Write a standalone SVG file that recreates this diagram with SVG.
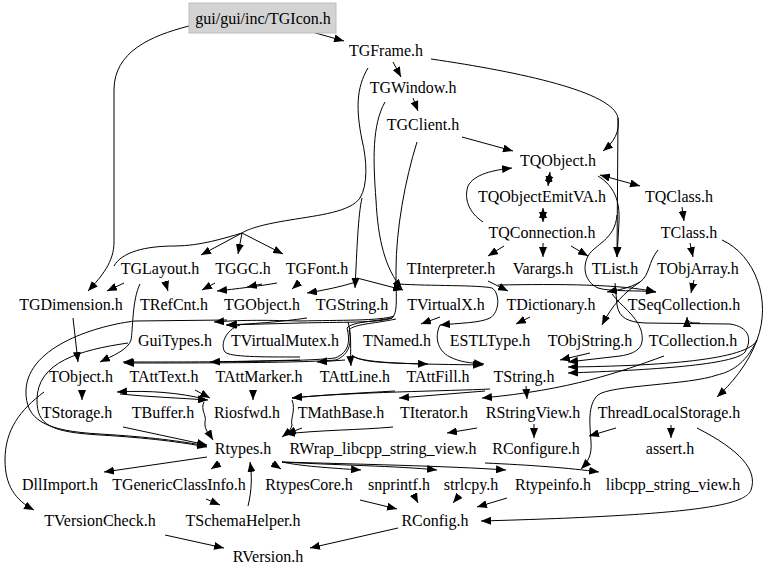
<svg xmlns="http://www.w3.org/2000/svg" width="768" height="575" viewBox="0 0 768 575">
<style>
text{font-family:"Liberation Serif","Times New Roman",serif;font-size:16px;text-anchor:middle;fill:#000}
.e{fill:none;stroke:#000;stroke-width:1;marker-end:url(#a)}
.l{fill:none;stroke:#000;stroke-width:1}
.d{fill:none;stroke:#000;stroke-width:1;marker-end:url(#a);marker-start:url(#a)}
</style>
<defs>
<marker id="a" markerUnits="userSpaceOnUse" markerWidth="10" markerHeight="8" viewBox="0 0 10 8" refX="10" refY="4" orient="auto-start-reverse">
<path d="M0,0 L10,4 L0,8 z" fill="#000"/>
</marker>
</defs>
<rect width="768" height="575" fill="#fff"/>
<g id="edges">
<path class="e" d="M312,32 L344,41"/>
<path class="e" d="M189,26 C150,36 114,52 114,90 L114,242 C114,262 102,276 88,291"/>
<path class="e" d="M393,62 L401,77"/>
<path class="e" d="M431,59 C520,72 614,92 618,118 C620,132 614,142 603,151"/>
<path class="e" d="M618,118 L617,257"/>
<path class="e" d="M413,98 L418,111"/>
<path class="e" d="M462,137 L513,151"/>
<path class="l" d="M368,68 C356,88 356,110 362,140 C367,160 368,185 360,198 C350,212 320,215 290,220 C265,224 250,228 242,233"/>
<path class="e" d="M242,233 L201,255"/>
<path class="e" d="M242,233 L238,254"/>
<path class="e" d="M242,233 L283,254"/>
<path class="l" d="M242,233 C225,238 200,246 175,246 C145,246 122,252 114,266"/>
<path class="e" d="M362,198 C358,215 357,250 355,288"/>
<path class="e" d="M357,278 L403,290"/>
<path class="e" d="M356,282 C340,287 325,290 307,293"/>
<path class="e" d="M385,102 C372,125 373,160 376,200 C378,240 385,268 402,289"/>
<path class="l" d="M417,142 C405,180 396,230 396,270 C396,300 398,312 392,318"/>
<path class="e" d="M392,318 C380,323 340,322 300,323 L226,325"/>
<path class="e" d="M394,316 C380,321 340,320 300,321 C260,320 240,320 214,322"/>
<path class="e" d="M307,318 C280,322 250,324 227,325"/>
<path class="l" d="M240,325 C225,330 220,345 225,352 C230,357 260,357 300,357"/>
<path class="e" d="M392,318 C370,322 352,322 347,328 C350,340 350,352 335,358 C300,362 200,362 123,362"/>
<path class="e" d="M396,319 C372,324 354,324 349,330 C352,342 350,354 336,360 C300,363 200,363 124,363"/>
<path class="e" d="M300,360 C270,361 240,361 210,362"/>
<path class="e" d="M345,360 L317,362"/>
<path class="e" d="M348,322 C352,335 350,350 351,366"/>
<path class="e" d="M352,355 C360,362 380,363 428,364"/>
<path class="e" d="M352,356 C365,364 420,364 483,365"/>
<path class="e" d="M398,284 C430,286 480,285 492,288 C500,293 500,312 490,318 C480,323 460,323 440,325"/>
<path class="e" d="M440,317 L421,324"/>
<path class="e" d="M440,325 C435,335 436,350 450,357 C460,362 470,363 484,364"/>
<path class="e" d="M488,281 L508,291"/>
<path class="e" d="M498,285 C560,284 620,284 656,292"/>
<path class="e" d="M530,317 L516,324"/>
<path class="e" d="M504,246 L488,256"/>
<path class="e" d="M543,243 L543,257"/>
<path class="e" d="M571,246 L588,256"/>
<path class="e" d="M483,222 C468,212 464,198 468,186 C474,174 494,170 512,168"/>
<path class="d" d="M550,172 L548,186"/>
<path class="d" d="M543,208 L543,222"/>
<path class="d" d="M600,175 L640,186"/>
<path class="e" d="M598,176 C614,186 620,200 619,222 L617,257"/>
<path class="e" d="M682,207 L684,221"/>
<path class="e" d="M690,243 L693,257"/>
<path class="e" d="M694,280 L691,293"/>
<path class="e" d="M658,250 C648,262 650,275 640,282 C630,288 618,290 607,292"/>
<path class="e" d="M640,282 C625,292 612,305 602,325"/>
<path class="e" d="M617,215 C615,240 595,244 588,256 C582,268 585,282 598,288 C610,292 640,290 656,292"/>
<path class="e" d="M615,283 L617,305 C619,318 628,322 645,323 L730,324 C750,327 752,340 745,352 C735,365 650,370 568,373"/>
<path class="e" d="M700,323 C692,323 687,323 687,317"/>
<path class="e" d="M612,294 C620,305 636,315 641,330 C645,345 640,353 620,356 L568,362"/>
<path class="e" d="M722,240 C755,255 772,300 757,340 C748,365 730,385 717,397"/>
<path class="e" d="M757,340 C748,360 660,366 568,367"/>
<path class="e" d="M590,353 L560,360"/>
<path class="e" d="M664,356 C620,372 570,390 482,398"/>
<path class="e" d="M526,386 L527,399"/>
<path class="e" d="M485,391 L399,398"/>
<path class="e" d="M490,389 C450,391 350,392 292,398"/>
<path class="e" d="M395,391 C360,393 320,395 292,398"/>
<path class="e" d="M292,400 C296,410 290,420 292,425 C290,432 286,434 282,437"/>
<path class="e" d="M393,427 C360,430 320,430 285,434"/>
<path class="e" d="M302,428 L286,434"/>
<path class="e" d="M477,428 L447,433"/>
<path class="e" d="M534,424 L534,438"/>
<path class="e" d="M616,428 L589,436"/>
<path class="e" d="M671,425 L671,438"/>
<path class="e" d="M697,428 C740,450 758,470 751,490 C745,505 700,515 481,521"/>
<path class="e" d="M757,340 C745,365 730,372 717,375 C690,385 610,385 598,395 C587,405 590,425 591,442 C592,455 588,462 581,469"/>
<path class="e" d="M485,463 C530,465 570,468 599,472"/>
<path class="e" d="M282,462 C300,466 330,468 361,470"/>
<path class="e" d="M282,462 C330,465 400,466 437,470"/>
<path class="e" d="M282,462 C350,464 450,466 506,470"/>
<path class="e" d="M272,463 L281,469"/>
<path class="e" d="M207,457 L104,472"/>
<path class="e" d="M220,463 L211,469"/>
<path class="e" d="M248,506 C252,490 252,475 250,462"/>
<path class="e" d="M206,499 L220,505"/>
<path class="e" d="M360,500 L397,509"/>
<path class="e" d="M415,497 L418,503"/>
<path class="e" d="M458,497 L453,503"/>
<path class="e" d="M507,498 L477,507"/>
<path class="e" d="M398,528 L310,548"/>
<path class="e" d="M165,535 L224,548"/>
<path class="e" d="M82,390 L82,400"/>
<path class="e" d="M44,392 C20,410 5,430 5,460 C5,485 15,500 34,510"/>
<path class="e" d="M128,343 C80,350 37,362 37,400 C37,425 50,432 100,435 C150,438 180,442 207,447"/>
<path class="e" d="M227,320 L135,321 C100,325 28,345 26,390 C25,420 45,431 100,434 C150,437 180,441 207,446"/>
<path class="e" d="M205,399 C180,393 150,390 117,392"/>
<path class="e" d="M120,394 C150,397 180,398 208,400"/>
<path class="e" d="M195,390 L210,398"/>
<path class="e" d="M204,402 C200,410 207,415 205,422 C204,430 210,435 213,440"/>
<path class="e" d="M123,427 L207,445"/>
<path class="e" d="M253,390 L253,400"/>
<path class="e" d="M124,283 L107,291"/>
<path class="e" d="M165,281 L168,291"/>
<path class="e" d="M140,284 C132,300 133,330 131,340 C128,350 112,356 100,362"/>
<path class="e" d="M73,318 L78,362"/>
<path class="e" d="M215,283 L202,290"/>
<path class="e" d="M277,283 C260,286 235,289 217,291"/>
<path class="e" d="M262,284 L247,287"/>
<path class="e" d="M300,282 L292,289"/>
</g>
<g id="n_TGIcon"><rect x="189" y="3" width="147" height="30" fill="#d3d3d3" stroke="#bfbfbf"/><text x="263" y="24">gui/gui/inc/TGIcon.h</text></g>
<g id="n_TGFrame"><text x="386" y="56">TGFrame.h</text></g>
<g id="n_TGWindow"><text x="413" y="93">TGWindow.h</text></g>
<g id="n_TGClient"><text x="423" y="130">TGClient.h</text></g>
<g id="n_TQObject"><text x="558" y="166">TQObject.h</text></g>
<g id="n_TQObjectEmitVA"><text x="542" y="202">TQObjectEmitVA.h</text></g>
<g id="n_TQClass"><text x="679" y="202">TQClass.h</text></g>
<g id="n_TQConnection"><text x="542" y="238">TQConnection.h</text></g>
<g id="n_TClass"><text x="689" y="238">TClass.h</text></g>
<g id="n_TGLayout"><text x="160" y="274">TGLayout.h</text></g>
<g id="n_TGGC"><text x="243" y="274">TGGC.h</text></g>
<g id="n_TGFont"><text x="317" y="274">TGFont.h</text></g>
<g id="n_TInterpreter"><text x="451" y="274">TInterpreter.h</text></g>
<g id="n_Varargs"><text x="543" y="274">Varargs.h</text></g>
<g id="n_TList"><text x="615" y="274">TList.h</text></g>
<g id="n_TObjArray"><text x="698" y="274">TObjArray.h</text></g>
<g id="n_TGDimension"><text x="71" y="310">TGDimension.h</text></g>
<g id="n_TRefCnt"><text x="174" y="310">TRefCnt.h</text></g>
<g id="n_TGObject"><text x="262" y="310">TGObject.h</text></g>
<g id="n_TGString"><text x="352" y="310">TGString.h</text></g>
<g id="n_TVirtualX"><text x="446" y="310">TVirtualX.h</text></g>
<g id="n_TDictionary"><text x="551" y="310">TDictionary.h</text></g>
<g id="n_TSeqCollection"><text x="684" y="310">TSeqCollection.h</text></g>
<g id="n_GuiTypes"><text x="175" y="346">GuiTypes.h</text></g>
<g id="n_TVirtualMutex"><text x="285" y="346">TVirtualMutex.h</text></g>
<g id="n_TNamed"><text x="397" y="346">TNamed.h</text></g>
<g id="n_ESTLType"><text x="490" y="346">ESTLType.h</text></g>
<g id="n_TObjString"><text x="590" y="346">TObjString.h</text></g>
<g id="n_TCollection"><text x="693" y="346">TCollection.h</text></g>
<g id="n_TObject"><text x="81" y="382">TObject.h</text></g>
<g id="n_TAttText"><text x="164" y="382">TAttText.h</text></g>
<g id="n_TAttMarker"><text x="259" y="382">TAttMarker.h</text></g>
<g id="n_TAttLine"><text x="355" y="382">TAttLine.h</text></g>
<g id="n_TAttFill"><text x="438" y="382">TAttFill.h</text></g>
<g id="n_TString"><text x="524" y="382">TString.h</text></g>
<g id="n_TStorage"><text x="77" y="418">TStorage.h</text></g>
<g id="n_TBuffer"><text x="163" y="418">TBuffer.h</text></g>
<g id="n_Riosfwd"><text x="247" y="418">Riosfwd.h</text></g>
<g id="n_TMathBase"><text x="341" y="418">TMathBase.h</text></g>
<g id="n_TIterator"><text x="434" y="418">TIterator.h</text></g>
<g id="n_RStringView"><text x="533" y="418">RStringView.h</text></g>
<g id="n_ThreadLocalStorage"><text x="669" y="418">ThreadLocalStorage.h</text></g>
<g id="n_Rtypes"><text x="243" y="454">Rtypes.h</text></g>
<g id="n_RWrap"><text x="383" y="454">RWrap_libcpp_string_view.h</text></g>
<g id="n_RConfigure"><text x="536" y="454">RConfigure.h</text></g>
<g id="n_assert"><text x="670" y="454">assert.h</text></g>
<g id="n_DllImport"><text x="60" y="490">DllImport.h</text></g>
<g id="n_TGenericClassInfo"><text x="179" y="490">TGenericClassInfo.h</text></g>
<g id="n_RtypesCore"><text x="309" y="490">RtypesCore.h</text></g>
<g id="n_snprintf"><text x="399" y="490">snprintf.h</text></g>
<g id="n_strlcpy"><text x="471" y="490">strlcpy.h</text></g>
<g id="n_Rtypeinfo"><text x="553" y="490">Rtypeinfo.h</text></g>
<g id="n_libcpp"><text x="673" y="490">libcpp_string_view.h</text></g>
<g id="n_TVersionCheck"><text x="100" y="526">TVersionCheck.h</text></g>
<g id="n_TSchemaHelper"><text x="243" y="526">TSchemaHelper.h</text></g>
<g id="n_RConfig"><text x="435" y="526">RConfig.h</text></g>
<g id="n_RVersion"><text x="268" y="562">RVersion.h</text></g>
</svg>
